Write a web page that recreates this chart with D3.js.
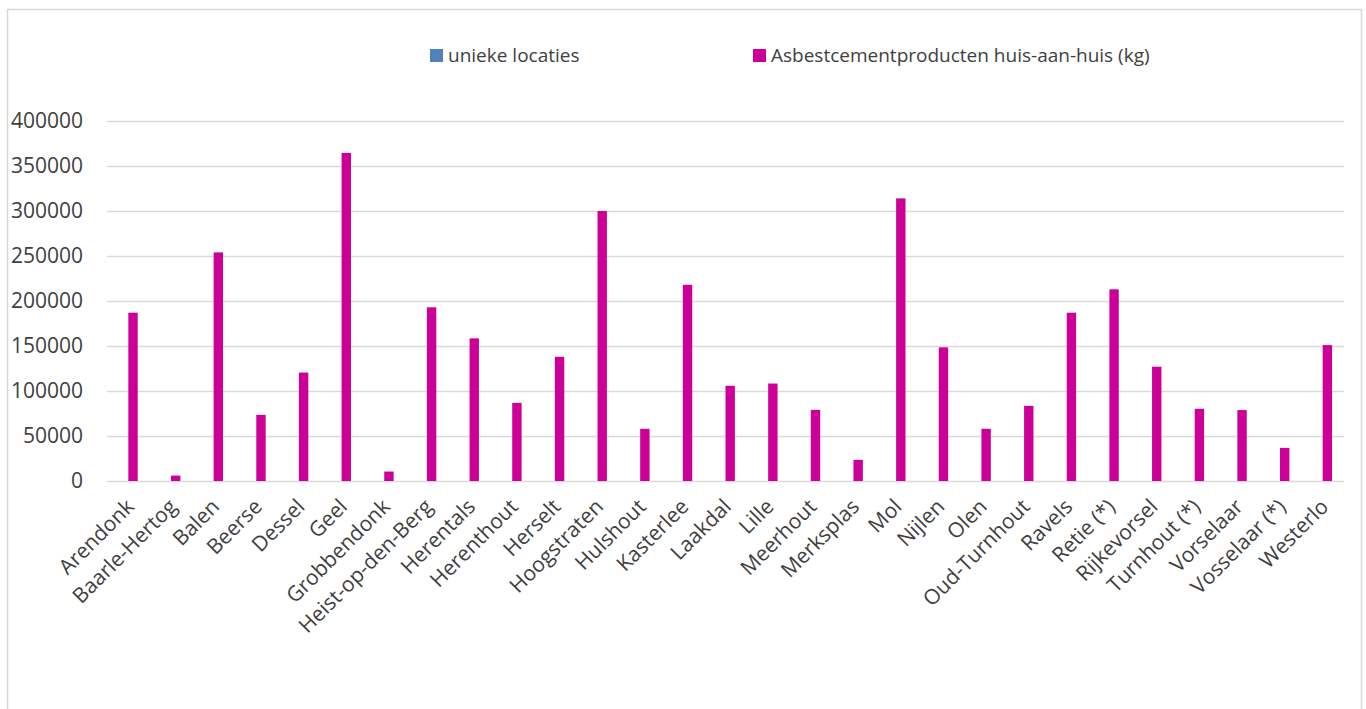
<!DOCTYPE html>
<html>
<head>
<meta charset="utf-8">
<script src="https://cdn.jsdelivr.net/npm/d3@7"></script>
<style>
  body { margin: 0; background: #ffffff; }
  text { font-family: "Open Sans", "Noto Sans", sans-serif; fill: #404040; }
</style>
</head>
<body>
<div id="chart-area"></div>
<script>
// gemeenten (x-as)
const gemeenten = ["Arendonk", "Baarle-Hertog", "Balen", "Beerse", "Dessel", "Geel",
  "Grobbendonk", "Heist-op-den-Berg", "Herentals", "Herenthout", "Herselt", "Hoogstraten",
  "Hulshout", "Kasterlee", "Laakdal", "Lille", "Meerhout", "Merksplas", "Mol", "Nijlen",
  "Olen", "Oud-Turnhout", "Ravels", "Retie (*)", "Rijkevorsel", "Turnhout (*)",
  "Vorselaar", "Vosselaar (*)", "Westerlo"];

// series names (legend)
const reeksen = ["unieke locaties", "Asbestcementproducten huis-aan-huis (kg)"];
const kleuren = ["#4f81bd", "#cc0099"];

// unieke locaties: too small to show on this scale
const uniekeLocaties = [0, 0, 0, 0, 0, 0, 0, 0, 0, 0, 0, 0, 0, 0, 0, 0, 0, 0, 0, 0, 0, 0, 0, 0, 0, 0, 0, 0, 0];

// asbestcement huis-aan-huis (kg)
const asbestKg = [187000, 6000, 254000, 73500, 120500, 364500, 10500, 193000, 158500, 86800,
  138000, 300000, 58000, 218000, 105800, 108300, 79000, 23500, 314000, 148500,
  58000, 83500, 187000, 213000, 127000, 80200, 78800, 36800, 151000];

// y-as ticks
const yTicks = [0, 50000, 100000, 150000, 200000, 250000, 300000, 350000, 400000];

document.addEventListener("DOMContentLoaded", () => {

  let W = 1366, H = 709;
  //plot area (left, top, right, bottom)
  let margin = {left: 107, top: 121, right: 22, bottom: 228};
  let width = W - margin.left - margin.right,
      height = H - margin.top - margin.bottom;

  let svg = d3.select("#chart-area")
    .append("svg")
    .attr("width", W)
    .attr("height", H);

  // chart border
  svg.append("rect")
    .attr("x", 7.5).attr("y", 9.5)
    .attr("width", 1354).attr("height", 720)
    .attr("fill", "#ffffff")
    .attr("stroke", "#d9d9d9")
    .attr("stroke-width", 1.5);

  let group = svg.append("g")
    .attr("transform", "translate(" + margin.left + ", " + margin.top + ")");

  // scales
  let x = d3.scaleBand()
    .domain(gemeenten)
    .range([0, width])
    .paddingInner(0)
    .paddingOuter(0);

  let bw = x.bandwidth();
  let xSub = d3.scaleBand()
    .domain(reeksen)
    .range([bw / 2 - 0.22 * bw, bw / 2 + 0.22 * bw]);

  let y = d3.scaleLinear()
    .domain([0, 400000])
    .range([height, 0]);

  // gridlines + y labels
  let yAxisCall = d3.axisLeft(y)
    .tickValues(yTicks)
    .tickSize(-width)
    .tickPadding(24)
    .tickFormat(function(d){ return d; });
  let yAxis = group.append("g")
    .attr("class", "y axis")
    .call(yAxisCall);
  yAxis.select(".domain").remove();
  yAxis.selectAll(".tick line")
    .attr("stroke", "#d9d9d9")
    .attr("stroke-width", 1.5);
  yAxis.selectAll(".tick text")
    .attr("font-size", "21px")
    .attr("fill", "#404040")
    .attr("font-family", "Open Sans");

  // x labels
  let xAxisCall = d3.axisBottom(x).tickSize(0).tickPadding(0);
  let xAxis = group.append("g")
    .attr("class", "x axis")
    .attr("transform", "translate(0, " + height + ")")
    .call(xAxisCall);
  xAxis.select(".domain").remove();
  xAxis.selectAll("text")
    .attr("font-size", "21px")
    .attr("fill", "#404040")
    .attr("font-family", "Open Sans")
    .attr("x", 7)
    .attr("y", 27)
    .attr("dy", "0")
    .attr("text-anchor", "end")
    .attr("transform", function(){
      return "rotate(-45, 7, 27)";
    });

  // bars
  let rows = gemeenten.map(function(g, i){
    return {gemeente: g, waarden: [uniekeLocaties[i], asbestKg[i]]};
  });

  let groups = group.selectAll(".gem")
    .data(rows)
    .enter()
    .append("g")
    .attr("class", "gem")
    .attr("transform", function(d){ return "translate(" + x(d.gemeente) + ",0)"; });

  groups.selectAll("rect")
    .data(function(d){ return d.waarden.map(function(v, j){ return {reeks: reeksen[j], v: v, c: kleuren[j]}; }); })
    .enter()
    .append("rect")
    .attr("x", function(d){ return xSub(d.reeks); })
    .attr("y", function(d){ return y(d.v); })
    .attr("width", xSub.bandwidth())
    .attr("height", function(d){ return height - y(d.v); })
    .attr("fill", function(d){ return d.c; });

  // legend
  let legendX = [430, 753];
  let legend = svg.selectAll(".legend")
    .data(reeksen)
    .enter()
    .append("g")
    .attr("class", "legend")
    .attr("transform", function(d, i){ return "translate(" + legendX[i] + ", 49)"; });

  legend.append("rect")
    .attr("width", 13)
    .attr("height", 13)
    .attr("fill", function(d, i){ return kleuren[i]; });

  legend.append("text")
    .attr("x", 18)
    .attr("y", 13)
    .attr("font-size", "19px")
    .attr("fill", "#404040")
    .text(function(d){ return d; });
});
</script>
</body>
</html>
